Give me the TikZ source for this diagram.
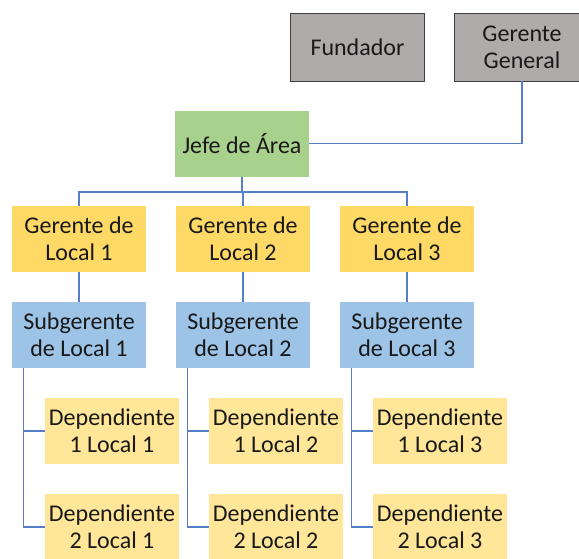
\documentclass[tikz,border=0pt]{standalone}
\usepackage{fontspec}
\setmainfont{Carlito}
\usetikzlibrary{calc}

\definecolor{topgray}{HTML}{AFABAB}
\definecolor{jefegreen}{HTML}{A9D18E}
\definecolor{gergold}{HTML}{FFD966}
\definecolor{subblue}{HTML}{9DC3E6}
\definecolor{deplight}{HTML}{FFE699}
\definecolor{linkblue}{HTML}{5580C8}

\tikzset{
    box/.style={minimum width=134pt, minimum height=66pt, inner sep=0pt,
        align=center, font=\fontsize{24}{27}\selectfont, text=black!90},
    topbox/.style={box, fill=topgray, draw=black!75, line width=0.8pt, minimum height=68pt},
    jefebox/.style={box, fill=jefegreen},
    gerbox/.style={box, fill=gergold},
    subbox/.style={box, fill=subblue},
    depbox/.style={box, fill=deplight},
    link/.style={draw=linkblue, line width=1.2pt}
}

\begin{document}
\begin{tikzpicture}[x=1pt, y=-1pt]
        \clip (0,0) rectangle (579,558);
        \fill[white] (0,0) rectangle (579,558);

        \node (fund) [topbox] at (357.5,47) {Fundador};
        \node (gg) [topbox, minimum width=136pt] at (522,47) {Gerente\\General};
        \node (jefe) [jefebox] at (242,143.5) {Jefe de Área};

        \node (ger1) [gerbox] at (79,239) {Gerente de\\Local 1};
        \node (ger2) [gerbox] at (243,239) {Gerente de\\Local 2};
        \node (ger3) [gerbox] at (407,239) {Gerente de\\Local 3};

        \node (sub1) [subbox] at (79,335) {Subgerente\\de Local 1};
        \node (sub2) [subbox] at (243,335) {Subgerente\\de Local 2};
        \node (sub3) [subbox] at (407,335) {Subgerente\\de Local 3};

        \node (dep11) [depbox] at (112,431) {Dependiente\\1 Local 1};
        \node (dep21) [depbox] at (112,527) {Dependiente\\2 Local 1};
        \node (dep12) [depbox] at (276,431) {Dependiente\\1 Local 2};
        \node (dep22) [depbox] at (276,527) {Dependiente\\2 Local 2};
        \node (dep13) [depbox] at (440,431) {Dependiente\\1 Local 3};
        \node (dep23) [depbox] at (440,527) {Dependiente\\2 Local 3};

        \coordinate (bus) at (242,192);

        \draw[link] (jefe.east) -| (gg.south);
        \draw[link] (jefe.south) -- (bus);
        \draw[link] (ger1.north) |- (bus) -| (ger3.north);
        \draw[link] (bus) -- (bus -| ger2.north) -- (ger2.north);

        \draw[link] (ger1.south) -- (sub1.north);
        \draw[link] (ger2.south) -- (sub2.north);
        \draw[link] (ger3.south) -- (sub3.north);

        \draw[link] ([xshift=12pt]sub1.south west) |- (dep21.west);
        \draw[link] ([xshift=12pt]sub1.south west) |- (dep11.west);
        \draw[link] ([xshift=12pt]sub2.south west) |- (dep22.west);
        \draw[link] ([xshift=12pt]sub2.south west) |- (dep12.west);
        \draw[link] ([xshift=12pt]sub3.south west) |- (dep23.west);
        \draw[link] ([xshift=12pt]sub3.south west) |- (dep13.west);
    \end{tikzpicture}
\end{document}
